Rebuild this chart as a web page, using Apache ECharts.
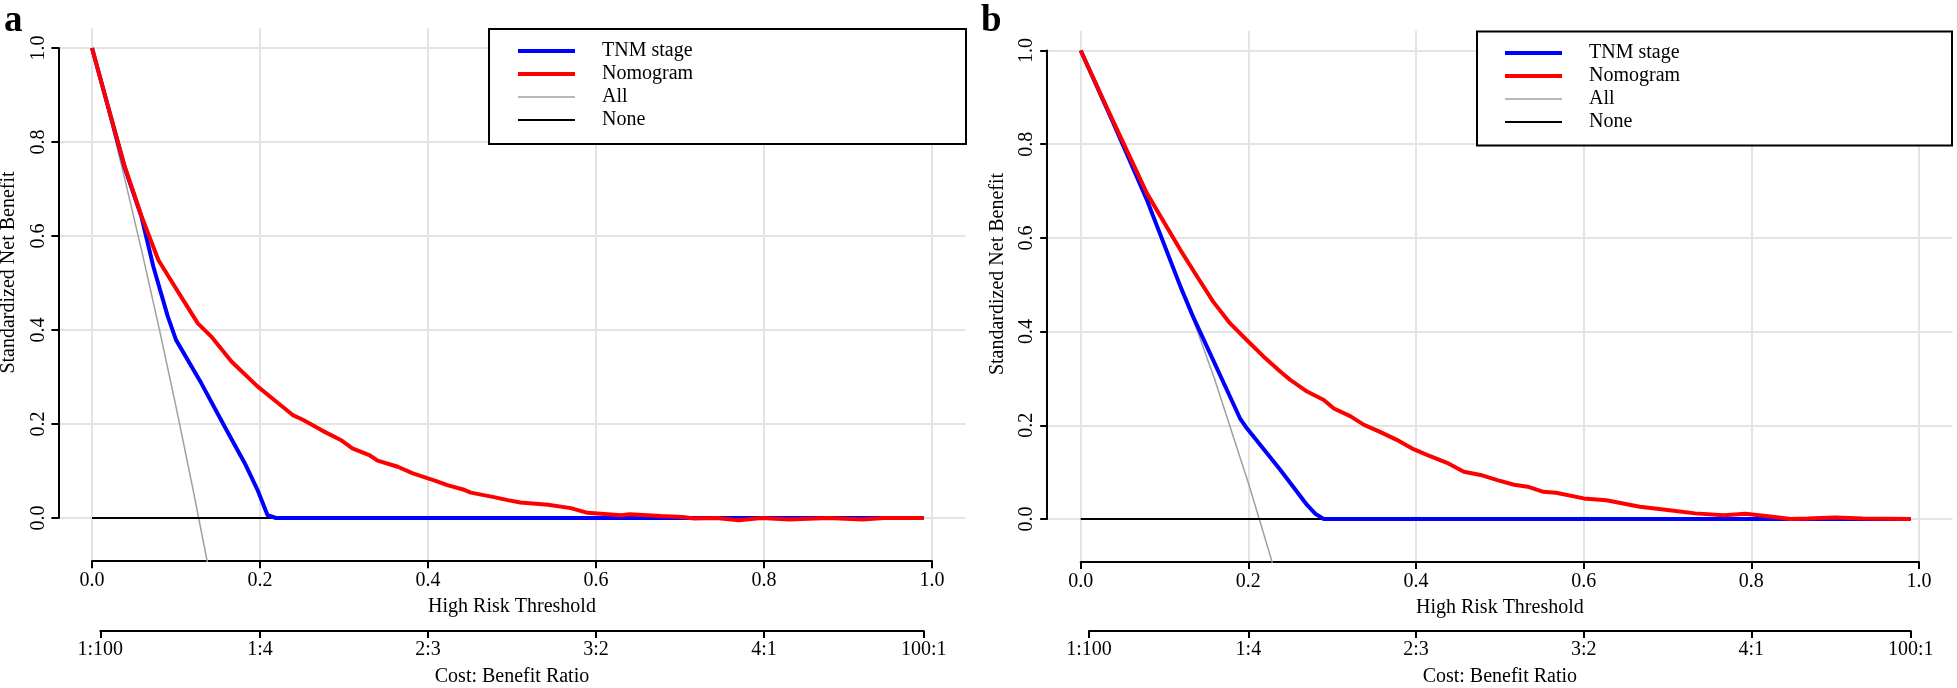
<!DOCTYPE html>
<html><head><meta charset="utf-8">
<script src="https://cdn.jsdelivr.net/npm/echarts@6/dist/echarts.min.js"></script>
<style>html,body{margin:0;padding:0;background:#fff}#c{width:1957px;height:688px}</style>
</head><body><div id="c"></div><script>
const FONT = 'Liberation Serif';
const seriesNames = ['TNM stage', 'Nomogram', 'All', 'None'];
const panelLabels = ['a', 'b'];
const thresholdTicks = [0, 0.2, 0.4, 0.6, 0.8, 1.0];
const netBenefitTicks = [0, 0.2, 0.4, 0.6, 0.8, 1.0];
const benefitTickValues = [1 / 101, 0.2, 0.4, 0.6, 0.8, 100 / 101];
const benefitTickLabels = ['1:100', '1:4', '2:3', '3:2', '4:1', '100:1'];
const xTitle = 'High Risk Threshold';
const x2Title = 'Cost: Benefit Ratio';
const yTitle = 'Standardized Net Benefit';

// Panel a
const tnmA = [[0,1],[0.019,0.876],[0.039,0.745],[0.059,0.64],[0.073,0.535],[0.090,0.43],[0.100,0.379],[0.130,0.287],[0.158,0.194],[0.182,0.116],[0.197,0.060],[0.209,0.006],[0.219,0],[0.99,0]];
const nomoA = [[0,1],[0.019,0.876],[0.039,0.748],[0.059,0.642],[0.079,0.549],[0.090,0.517],[0.106,0.471],[0.126,0.414],[0.142,0.386],[0.166,0.333],[0.197,0.280],[0.217,0.251],[0.239,0.219],[0.251,0.209],[0.273,0.187],[0.296,0.166],[0.310,0.148],[0.330,0.134],[0.340,0.122],[0.364,0.109],[0.382,0.095],[0.409,0.079],[0.423,0.070],[0.443,0.060],[0.451,0.054],[0.477,0.045],[0.495,0.038],[0.51,0.033],[0.543,0.028],[0.57,0.021],[0.59,0.011],[0.63,0.006],[0.64,0.008],[0.677,0.004],[0.703,0.002],[0.717,-0.001],[0.743,0],[0.77,-0.005],[0.797,0],[0.83,-0.003],[0.877,0],[0.917,-0.003],[0.943,0],[0.99,0]];
const allA = [[0,1],[0.02,0.86],[0.04,0.714],[0.06,0.562],[0.08,0.403],[0.10,0.237],[0.12,0.063],[0.127,0],[0.14,-0.118]];
const noneA = [[0,0],[0.99,0]];

// Panel b
const tnmB = [[0,1],[0.039,0.845],[0.079,0.681],[0.119,0.496],[0.134,0.432],[0.158,0.339],[0.190,0.215],[0.198,0.194],[0.238,0.105],[0.270,0.030],[0.280,0.011],[0.290,0],[0.99,0]];
const nomoB = [[0,1],[0.039,0.848],[0.079,0.695],[0.119,0.574],[0.139,0.517],[0.158,0.464],[0.178,0.418],[0.198,0.382],[0.218,0.347],[0.238,0.315],[0.250,0.297],[0.270,0.272],[0.290,0.254],[0.302,0.236],[0.322,0.219],[0.338,0.201],[0.357,0.186],[0.377,0.169],[0.397,0.149],[0.413,0.137],[0.437,0.120],[0.457,0.101],[0.477,0.094],[0.497,0.083],[0.517,0.073],[0.533,0.069],[0.552,0.058],[0.567,0.056],[0.60,0.044],[0.627,0.040],[0.667,0.026],[0.70,0.019],[0.733,0.012],[0.767,0.008],[0.793,0.011],[0.82,0.006],[0.847,0],[0.867,0.001],[0.90,0.003],[0.933,0.001],[0.99,0]];
const allB = [[0,1],[0.04,0.846],[0.08,0.679],[0.12,0.497],[0.16,0.297],[0.20,0.077],[0.213,0],[0.23,-0.102]];
const noneB = [[0,0],[0.99,0]];

const panelData = [
  {tnm: tnmA, nomo: nomoA, all: allA, none: noneA},
  {tnm: tnmB, nomo: nomoB, all: allB, none: noneB}
];
// layout (pixel geometry of each panel)
const geos = [
  {x0: 92, x1: 932, y0: 518, y1: 48, legendLeft: 516, legendTop: 41, box: [489, 29, 477, 115], yName: [8.5, 272.5], label: [4, 3]},
  {x0: 1080.7, x1: 1919, y0: 519, y1: 50.5, legendLeft: 1503, legendTop: 43, box: [1477, 31.5, 475, 114], yName: [997.5, 274], label: [981, 3]}
];
const colors = {'TNM stage': '#0000ff', 'Nomogram': '#ff0000', 'All': '#a0a0a0', 'None': '#000000'};
const widths = {'TNM stage': 4, 'Nomogram': 4, 'All': 1.5, 'None': 2};

const grids = [], xAxes = [], yAxes = [], series = [], legends = [], graphics = [];
const txt = {fontFamily: FONT, fontSize: 20, color: '#000'};
const fmt1 = v => v.toFixed(1);

geos.forEach((g, p) => {
  const ux = g.x1 - g.x0, uy = g.y0 - g.y1;
  const gi = grids.length;
  const regionBottom = g.y0 + 0.092 * uy;
  grids.push({left: g.x0 - 0.04 * ux, top: g.y1 - 0.042 * uy, width: 1.08 * ux, height: 1.134 * uy});
  grids.push({left: g.x0, top: g.y1, width: ux, height: uy});
  const b0 = benefitTickValues[0], b1 = benefitTickValues[benefitTickValues.length - 1];
  grids.push({left: g.x0 + ux * b0, top: regionBottom + 72 - 30, width: ux * (b1 - b0), height: 30});

  const gridLine = {show: true, lineStyle: {color: '#e4e4e4', width: 2}};
  xAxes.push({gridIndex: gi, type: 'value', min: -0.04, max: 1.04,
    axisLine: {show: false}, axisTick: {show: false, customValues: thresholdTicks},
    axisLabel: {show: false}, splitLine: gridLine});
  yAxes.push({gridIndex: gi, type: 'value', min: -0.092, max: 1.042,
    axisLine: {show: false}, axisTick: {show: false, customValues: netBenefitTicks},
    axisLabel: {show: false}, splitLine: gridLine});

  xAxes.push({gridIndex: gi + 1, type: 'value', min: 0, max: 1, interval: 0.2, position: 'bottom', offset: 0.092 * uy,
    axisLine: {show: true, onZero: false, lineStyle: {color: '#000', width: 2}},
    axisTick: {show: true, length: 7, lineStyle: {color: '#000', width: 2}},
    axisLabel: Object.assign({margin: 10, formatter: fmt1}, txt),
    splitLine: {show: false},
    name: xTitle, nameLocation: 'middle', nameGap: 36, nameTextStyle: txt});
  yAxes.push({gridIndex: gi + 1, type: 'value', min: 0, max: 1, interval: 0.2, position: 'left', offset: 0.04 * ux,
    axisLine: {show: true, onZero: false, lineStyle: {color: '#000', width: 2}},
    axisTick: {show: true, length: 7, lineStyle: {color: '#000', width: 2}},
    axisLabel: Object.assign({margin: 10, rotate: 90, formatter: fmt1}, txt),
    splitLine: {show: false}});

  xAxes.push({gridIndex: gi + 2, type: 'value', min: b0, max: b1, position: 'bottom',
    axisLine: {show: true, onZero: false, lineStyle: {color: '#000', width: 2}},
    axisTick: {show: true, length: 7, customValues: benefitTickValues, lineStyle: {color: '#000', width: 2}},
    axisLabel: Object.assign({margin: 9, hideOverlap: false, customValues: benefitTickValues,
      formatter: v => { const i = benefitTickValues.findIndex(t => Math.abs(t - v) < 1e-6); return i >= 0 ? benefitTickLabels[i] : ''; }}, txt),
    splitLine: {show: false},
    name: x2Title, nameLocation: 'middle', nameGap: 36, nameTextStyle: txt});
  yAxes.push({gridIndex: gi + 2, type: 'value', min: 0, max: 1, show: false});

  const d = panelData[p];
  const order = [['All', d.all], ['None', d.none], ['TNM stage', d.tnm], ['Nomogram', d.nomo]];
  order.forEach(([name, data]) => {
    series.push({type: 'line', name, xAxisIndex: gi, yAxisIndex: gi, data, symbol: 'none', clip: true,
      lineStyle: {color: colors[name], width: widths[name]}, itemStyle: {color: colors[name]}, z: 2});
  });

  legends.push({orient: 'vertical', left: g.legendLeft, top: g.legendTop, padding: 0, itemGap: 3,
    itemWidth: 57, itemHeight: 20, data: seriesNames, selectedMode: false,
    lineStyle: {width: 'inherit'},
    itemStyle: {opacity: 0, borderWidth: 0},
    textStyle: {fontFamily: FONT, fontSize: 20, lineHeight: 20, color: '#000', padding: [0, 0, 0, 22]}, z: 5});

  graphics.push({type: 'rect', z: 3, shape: {x: g.box[0], y: g.box[1], width: g.box[2], height: g.box[3]},
    style: {fill: '#fff', stroke: '#000', lineWidth: 2}});
  graphics.push({type: 'text', z: 3, x: g.yName[0], y: g.yName[1], rotation: Math.PI / 2,
    style: {text: yTitle, font: '20px "Liberation Serif"', fill: '#000', align: 'center', verticalAlign: 'middle', textAlign: 'center', textVerticalAlign: 'middle'}});
  graphics.push({type: 'text', z: 3, x: g.label[0], y: g.label[1],
    style: {text: panelLabels[p], font: 'bold 37px "Liberation Serif"', fill: '#000', align: 'left', verticalAlign: 'top', textAlign: 'left', textVerticalAlign: 'top'}});
});

const chart = echarts.init(document.getElementById('c'), null, {renderer: 'canvas'});
chart.setOption({
  animation: false,
  backgroundColor: '#fff',
  grid: grids, xAxis: xAxes, yAxis: yAxes, series, legend: legends,
  graphic: {elements: graphics}
});
</script></body></html>
